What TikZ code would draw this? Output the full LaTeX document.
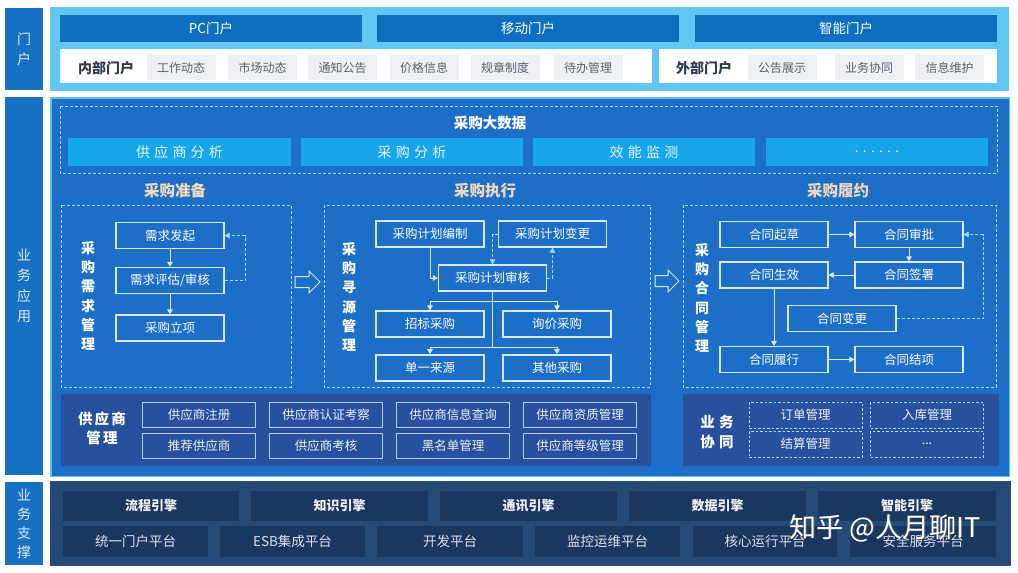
\documentclass[tikz,border=0pt]{standalone}
\usepackage{fontspec}
\setmainfont{Noto Sans CJK SC}
\newfontfamily\spc{Noto Sans CJK SC}[LetterSpace=30]
\newfontfamily\spcb{Noto Sans CJK SC}[LetterSpace=15]
\usetikzlibrary{arrows.meta}
\definecolor{labblue}{HTML}{1870C2}
\definecolor{portalbg}{HTML}{62C6F2}
\definecolor{portalbar}{HTML}{0E6FC1}
\definecolor{itemgray}{HTML}{EEF0F3}
\definecolor{itemtext}{HTML}{5A6270}
\definecolor{darktext}{HTML}{2F3A4D}
\definecolor{mainbg}{HTML}{1D6EC7}
\definecolor{mainborder}{HTML}{5FC3F0}
\definecolor{anabox}{HTML}{18A6EA}
\definecolor{panel}{HTML}{27509D}
\definecolor{suppbg}{HTML}{244B78}
\definecolor{suppbox}{HTML}{1B365F}
\definecolor{peach}{HTML}{F2D9BD}
\definecolor{lineclr}{HTML}{D4EBFB}
\definecolor{dashclr}{HTML}{A9D8F5}
\begin{document}
\begin{tikzpicture}[x=1pt,y=-1pt,
  lab/.style={fill=labblue, text=white!85!labblue, align=center, inner sep=0pt,
    font=\fontsize{14}{20.5}\selectfont},
  bar/.style={fill=portalbar, text=white, minimum width=302, minimum height=27,
    inner sep=0pt, font=\fontsize{13.5}{16}\selectfont},
  item/.style={fill=itemgray, text=itemtext, minimum width=69, minimum height=25,
    inner sep=0pt, font=\fontsize{12}{14}\selectfont},
  ana/.style={fill=anabox, text=white!90!anabox, minimum height=28, inner sep=0pt,
    font=\spc\fontsize{14}{16}\selectfont},
  sect/.style={text=peach, font=\bfseries\fontsize{15.5}{18}\selectfont},
  pbox/.style={draw=lineclr, line width=1.1pt, text=white, minimum width=108,
    minimum height=26, inner sep=0pt, font=\fontsize{12.5}{14}\selectfont},
  vtext/.style={text=white, align=center, font=\bfseries\fontsize{14}{19.2}\selectfont},
  dbox/.style={draw=dashclr, dash pattern=on 3pt off 2pt, line width=0.8pt},
  ar/.style={draw=lineclr, line width=1pt, -{Triangle[length=5pt,width=5.5pt]}},
  dar/.style={draw=dashclr, line width=0.9pt, dash pattern=on 3pt off 2pt,
    -{Triangle[length=5pt,width=5.5pt]}},
  ln/.style={draw=lineclr, line width=1pt},
  sbox/.style={draw=lineclr!80!panel, line width=1pt, text=white!92!panel,
    minimum width=113, minimum height=25, inner sep=0pt, font=\fontsize{12.5}{14}\selectfont},
  cbox/.style={draw=dashclr, dash pattern=on 2.5pt off 2pt, line width=0.8pt,
    text=white!92!panel, minimum width=113, minimum height=26, inner sep=0pt,
    font=\fontsize{12.5}{14}\selectfont},
  eng/.style={fill=suppbox, text=white!92!suppbox, minimum height=30, inner sep=0pt,
    font=\bfseries\fontsize{13}{15}\selectfont},
  plat/.style={fill=suppbox, text=white!85!suppbox, minimum height=31, inner sep=0pt,
    font=\fontsize{13.5}{16}\selectfont},
  hollow/.style={draw=lineclr, line width=1pt, line join=miter}
]
\useasboundingbox (0,0) rectangle (1018,573);
\fill[white] (0,0) rectangle (1018,573);

% ================= Portal =================
\node[lab, minimum width=38, minimum height=82] (lp) at (24,49) {门\\户};
\fill[portalbg] (50,7) rectangle (1009,91);
\node[bar] (pc) at (211,28.5) {PC门户};
\node[bar] (mob) at (528,28.5) {移动门户};
\node[bar] (ai) at (846,28.5) {智能门户};
\fill[white] (60,49) rectangle (652,83);
\fill[white] (659,49) rectangle (997,83);
\node[text=darktext, font=\bfseries\fontsize{14}{16}\selectfont] (inner) at (106,68) {内部门户};
\node[item] (i1) at (181,67.5) {工作动态};
\node[item] (i2) at (262.5,67.5) {市场动态};
\node[item] (i3) at (342.5,67.5) {通知公告};
\node[item] (i4) at (424,67.5) {价格信息};
\node[item] (i5) at (505,67.5) {规章制度};
\node[item] (i6) at (588,67.5) {待办管理};
\node[text=darktext, font=\bfseries\fontsize{14}{16}\selectfont] (outer) at (704,68) {外部门户};
\node[item] (o1) at (782,67.5) {公告展示};
\node[item] (o2) at (869,67.5) {业务协同};
\node[item] (o3) at (949.5,67.5) {信息维护};

% ================= Business application =================
\node[lab, minimum width=38, minimum height=378] (la) at (24,286) {业\\务\\应\\用};
\draw[fill=mainbg, draw=mainborder, line width=1.5pt] (50.75,97.75) rectangle (1009.25,476.25);

\draw[dbox] (60,106) rectangle (997,173);
\node[text=white, font=\bfseries\fontsize{14.5}{17}\selectfont] (bd) at (490,123) {采购大数据};
\node[ana, minimum width=223] (a1) at (179.5,152) {供应商分析};
\node[ana, minimum width=222] (a2) at (412,152) {采购分析};
\node[ana, minimum width=222] (a3) at (644,152) {效能监测};
\node[ana, minimum width=222] (a4) at (877,152) {......};

\node[sect] (s1) at (175,191) {采购准备};
\node[sect] (s2) at (485,191) {采购执行};
\node[sect] (s3) at (838,191) {采购履约};

% ---- left: demand management ----
\draw[dbox] (61,205) rectangle (291,387);
\node[vtext] (v1) at (88,296) {采\\购\\需\\求\\管\\理};
\node[pbox] (x1) at (170,235.5) {需求发起};
\node[pbox] (x2) at (170,280.5) {需求评估/审核};
\node[pbox] (x3) at (170,328) {采购立项};
\draw[ar] (x1) -- (x2);
\draw[ar] (x2) -- (x3);
\coordinate (fb) at (245,280.5);
\draw[dar] (x2.east) -- (fb) |- (x1.east);

% hollow arrow 1
\draw[hollow] (295,276.5) -- (309,276.5) -- (309,271) -- (320,282) -- (309,293) -- (309,287.5) -- (295,287.5) -- cycle;

% ---- center: sourcing ----
\draw[dbox] (324,205) rectangle (650,387);
\node[vtext] (v2) at (349,297) {采\\购\\寻\\源\\管\\理};
\node[pbox] (y1) at (430,234) {采购计划编制};
\node[pbox] (y2) at (552.5,234) {采购计划变更};
\node[pbox] (y3) at (492.5,278) {采购计划审核};
\node[pbox] (y4) at (430,324) {招标采购};
\node[pbox] (y5) at (557,324) {询价采购};
\node[pbox, line width=1.6pt] (y6) at (430,368) {单一来源};
\node[pbox, line width=1.6pt] (y7) at (557,368) {其他采购};
\draw[ar] (y1.south) |- (y3.west);
\draw[dar] (y2.west) -| (y3.north);
\draw[dar] (y3.east) -| (y2.south);
\coordinate (t1) at (492.5,301);
\coordinate (t2) at (492.5,347);
\draw[ln] (y3.south) -- (t2);
\draw[ar] (t1) -| (y4.north);
\draw[ar] (t1) -| (y5.north);
\draw[ar] (t2) -| (y6.north);
\draw[ar] (t2) -| (y7.north);

% hollow arrow 2
\draw[hollow] (655,275.5) -- (668,275.5) -- (668,270) -- (679,281) -- (668,292) -- (668,286.5) -- (655,286.5) -- cycle;

% ---- right: contract management ----
\draw[dbox] (683,205) rectangle (996,387);
\node[vtext] (v3) at (702,298) {采\\购\\合\\同\\管\\理};
\node[pbox] (z1) at (774,234.5) {合同起草};
\node[pbox] (z2) at (909,234.5) {合同审批};
\node[pbox] (z3) at (774,275) {合同生效};
\node[pbox] (z4) at (909,275) {合同签署};
\node[pbox] (z5) at (842,318.5) {合同变更};
\node[pbox] (z6) at (774,359.5) {合同履行};
\node[pbox] (z7) at (909,359.5) {合同结项};
\draw[ar] (z1) -- (z2);
\draw[ar] (z2) -- (z4);
\draw[ar] (z4) -- (z3);
\draw[ar] (z3) -- (z6);
\draw[ar] (z6) -- (z7);
\coordinate (cb) at (983,318.5);
\draw[dar] (z5.east) -- (cb) |- (z2.east);

% ---- supplier management panel ----
\fill[panel] (61,394) rectangle (651,466);
\node[text=white, align=center, font=\spcb\bfseries\fontsize{14.5}{19}\selectfont] (sl) at (102,428.5) {供应商\\管理};
\node[sbox] (p1) at (199,414.5) {供应商注册};
\node[sbox] (p2) at (326,414.5) {供应商认证考察};
\node[sbox] (p3) at (453,414.5) {供应商信息查询};
\node[sbox] (p4) at (580,414.5) {供应商资质管理};
\node[sbox] (p5) at (199,445.5) {推荐供应商};
\node[sbox] (p6) at (326,445.5) {供应商考核};
\node[sbox] (p7) at (453,445.5) {黑名单管理};
\node[sbox] (p8) at (580,445.5) {供应商等级管理};

% ---- business collaboration panel ----
\fill[panel] (683,394) rectangle (999,466);
\node[text=white, align=center, font=\spc\bfseries\fontsize{14.5}{20}\selectfont] (bl) at (717,431.5) {业务\\协同};
\node[cbox] (c1) at (805.5,415) {订单管理};
\node[cbox] (c2) at (927,415) {入库管理};
\node[cbox] (c3) at (805.5,444) {结算管理};
\node[cbox] (c4) at (927,444) {...};

% ================= Business support =================
\node[lab, minimum width=38, minimum height=83, font=\fontsize{14}{19}\selectfont] (ls) at (24,523.5) {业\\务\\支\\撑};
\fill[suppbg] (50,481) rectangle (1011,566);
\node[eng, minimum width=176] (e1) at (151,506) {流程引擎};
\node[eng, minimum width=177] (e2) at (339.5,506) {知识引擎};
\node[eng, minimum width=177] (e3) at (528.5,506) {通讯引擎};
\node[eng, minimum width=177] (e4) at (717.5,506) {数据引擎};
\node[eng, minimum width=178] (e5) at (907,506) {智能引擎};
\node[plat, minimum width=145] (f1) at (135.5,541.5) {统一门户平台};
\node[plat, minimum width=145] (f2) at (292.5,541.5) {ESB集成平台};
\node[plat, minimum width=146] (f3) at (450,541.5) {开发平台};
\node[plat, minimum width=145] (f4) at (607.5,541.5) {监控运维平台};
\node[plat, minimum width=144] (f5) at (765,541.5) {核心运行平台};
\node[plat, minimum width=146] (f6) at (923,541.5) {安全服务平台};

% watermark
\node[text=black!55, opacity=0.6, font=\fontsize{27}{30}\selectfont] at (885.8,528.8) {知乎 @人月聊IT};
\node[text=white, font=\fontsize{27}{30}\selectfont] (wm) at (885,528) {知乎 @人月聊IT};
\end{tikzpicture}
\end{document}
